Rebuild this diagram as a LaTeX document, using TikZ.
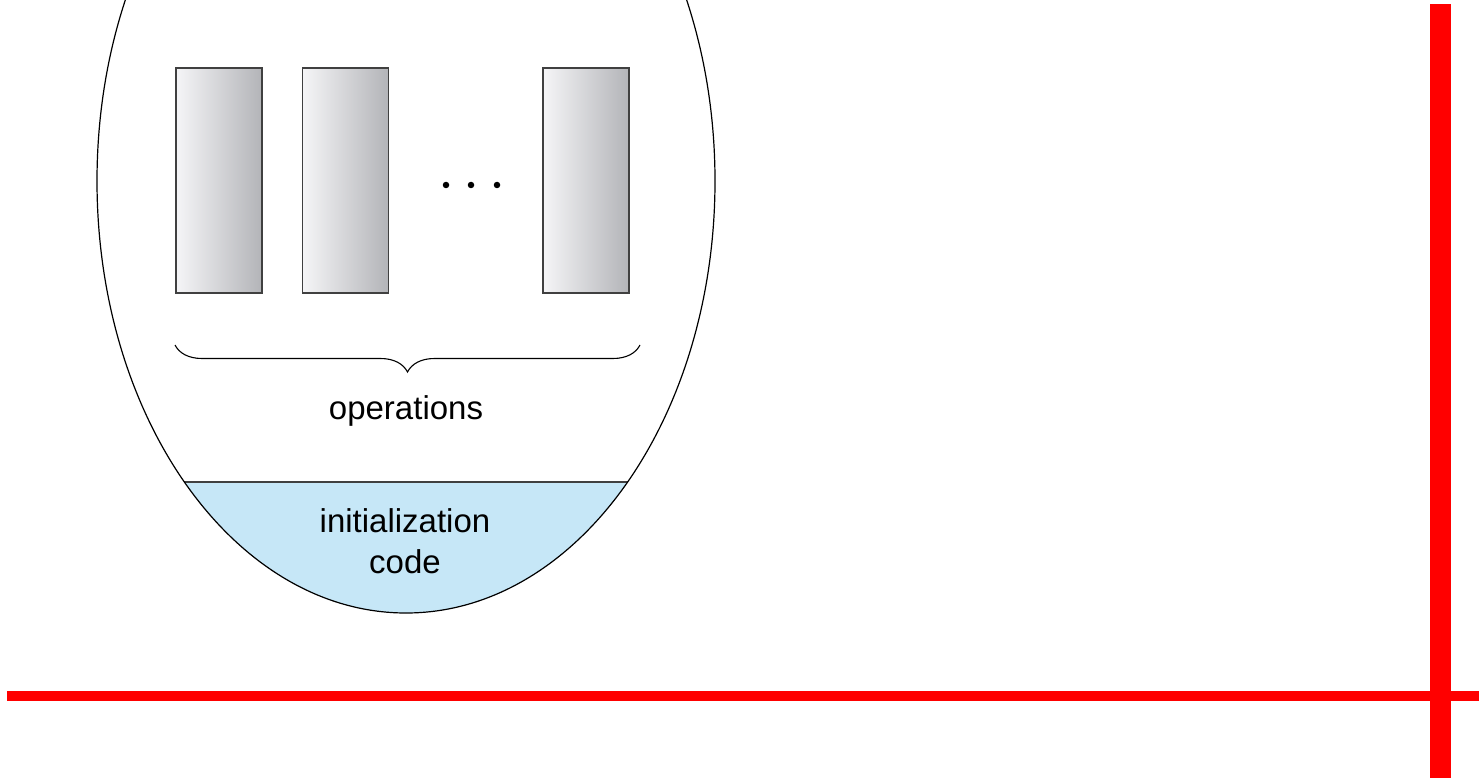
\documentclass[tikz,border=0pt]{standalone}
\usepackage{fontspec}
\setmainfont{Liberation Sans}
\usetikzlibrary{decorations.pathreplacing}
\definecolor{initblue}{HTML}{C6E7F7}
\definecolor{barred}{HTML}{FF0000}
\definecolor{boxlight}{HTML}{F5F5F7}
\definecolor{boxdark}{HTML}{B3B4B8}
\definecolor{edge}{HTML}{404040}
\begin{document}
\begin{tikzpicture}[x=1pt,y=-1pt,
  opbox/.style={draw=edge, line width=1.4pt, minimum width=86pt, minimum height=225pt,
    inner sep=0pt, left color=boxlight, right color=boxdark},
  dotmark/.style={circle, fill=black, inner sep=0pt, minimum size=6.5pt},
  lbl/.style={font=\fontsize{33}{41}\selectfont, inner sep=0pt, align=center, anchor=base},
  redbar/.style={fill=barred}]
\useasboundingbox (0,0) rectangle (1479,778);
\begin{scope}
  \clip (0,0) rectangle (1479,778);
  % initialization area
  \begin{scope}
    \clip (406,181) ellipse [x radius=309, y radius=432];
    \fill[initblue] (0,482) rectangle (800,700);
    \draw[edge, line width=1.2pt] (0,482) -- (800,482);
  \end{scope}
  \draw[black, line width=1.2pt] (406,181) ellipse [x radius=309, y radius=432];
\end{scope}
% operation boxes
\node[opbox] (op1) at (219,180.5) {};
\node[opbox] (op2) at (345.5,180.5) {};
\node[opbox] (op3) at (586,180.5) {};
\node[dotmark] (d1) at (446,185) {};
\node[dotmark] (d2) at (471,185) {};
\node[dotmark] (d3) at (497,185) {};
% brace
\coordinate (bl) at (175,345);
\coordinate (br) at (640,345);
\draw[black, line width=1.1pt, decorate, decoration={brace, mirror, amplitude=27pt, aspect=0.5}] (bl) -- (br);
\node[lbl] (ops) at (406,419) {operations};
\node[lbl] (init) at (405,573) {initialization\\code};
% red bars
\fill[redbar] (7,691) rectangle (1479,701);
\fill[redbar] (1430,4) rectangle (1451,778);
\end{tikzpicture}
\end{document}
